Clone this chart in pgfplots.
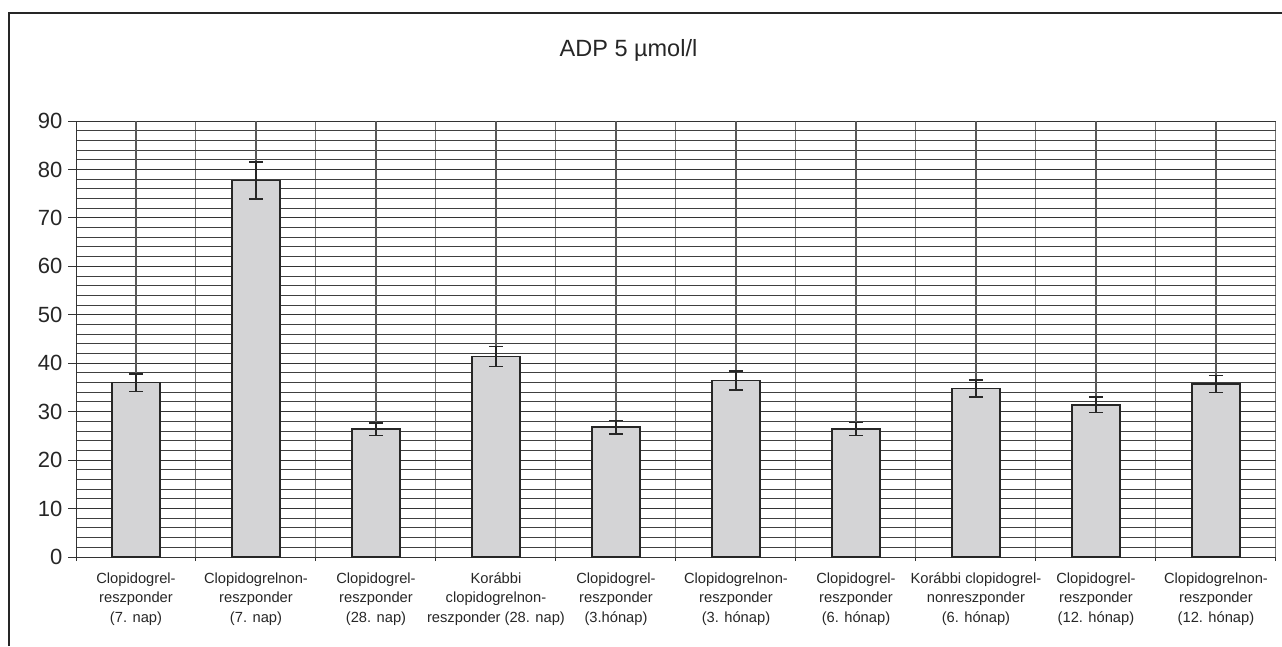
\documentclass[border=0pt]{standalone}
\usepackage{fontspec}
\setmainfont{Liberation Sans}
\usepackage{pgfplots}
\pgfplotsset{compat=1.18}
\definecolor{barfill}{RGB}{212,212,214}
\begin{document}
\begin{tikzpicture}
\path[use as bounding box] (0pt,0pt) rectangle (1282pt,-646pt);
\draw[line width=2pt, black!85] (9pt,-646pt) -- (9pt,-13pt) -- (1282pt,-13pt);
\node[anchor=base, font=\fontsize{23.5}{28}\selectfont, text=black!85] at (628.5pt,-56pt) {ADP 5 µmol/l};
\begin{axis}[
  at={(76pt,-557pt)}, anchor=south west,
  scale only axis, width=1200pt, height=436pt,
  xmin=-0.5, xmax=9.5, ymin=0, ymax=90,
  axis x line*=bottom, axis y line*=left,
  axis line style={line width=1pt, black!80},
  ytick={0,10,...,90},
  minor ytick={0,2,...,90},
  ymajorgrids, yminorgrids,
  major grid style={line width=1pt, black!80},
  minor grid style={line width=1pt, black!75},
  xtick={0,...,9},
  minor xtick={-0.5,0.5,...,9.5},
  xminorgrids,
  x grid style={line width=1pt, black!55},
  major tick length=8pt,
  minor tick length=4pt,
  tick align=outside,
  tick style={line width=1pt, black!80},
  every major x tick/.append style={draw=none},
  every minor y tick/.append style={draw=none},
  yticklabel style={font=\fontsize{22}{26}\selectfont, text=black!85, xshift=-2pt},
  xticklabel style={font=\fontsize{14.7}{19.5}\selectfont, text=black!85, align=center, yshift=-4pt},
  /pgf/number format/assume math mode=true,
  xticklabels={{Clopidogrel-\\reszponder\\(7. nap)},
    {Clopidogrelnon-\\reszponder\\(7. nap)},
    {Clopidogrel-\\reszponder\\(28. nap)},
    {Korábbi\\clopidogrelnon-\\reszponder (28. nap)},
    {Clopidogrel-\\reszponder\\(3.hónap)},
    {Clopidogrelnon-\\reszponder\\(3. hónap)},
    {Clopidogrel-\\reszponder\\(6. hónap)},
    {Korábbi clopidogrel-\\nonreszponder\\(6. hónap)},
    {Clopidogrel-\\reszponder\\(12. hónap)},
    {Clopidogrelnon-\\reszponder\\(12. hónap)}},
]
% vertical grid lines at the category centres
\addplot[ycomb, mark=none, line width=1.2pt, draw=black!65] coordinates {
  (0,90) (1,90) (2,90) (3,90) (4,90) (5,90) (6,90) (7,90) (8,90) (9,90)};
\addplot[ybar, bar width=0.4, fill=barfill, draw=black!85, line width=1.5pt,
  error bars/.cd, y dir=both, y explicit,
  error bar style={line width=1.5pt, black!85},
  error mark options={rotate=90, mark size=7pt, line width=1.5pt, black!85}]
  coordinates {
  (0,36.0) +- (0,1.8)
  (1,77.7) +- (0,3.8)
  (2,26.4) +- (0,1.3)
  (3,41.4) +- (0,2.1)
  (4,26.8) +- (0,1.4)
  (5,36.4) +- (0,1.95)
  (6,26.4) +- (0,1.35)
  (7,34.8) +- (0,1.75)
  (8,31.4) +- (0,1.6)
  (9,35.7) +- (0,1.75)
  };
\end{axis}
\end{tikzpicture}
\end{document}
